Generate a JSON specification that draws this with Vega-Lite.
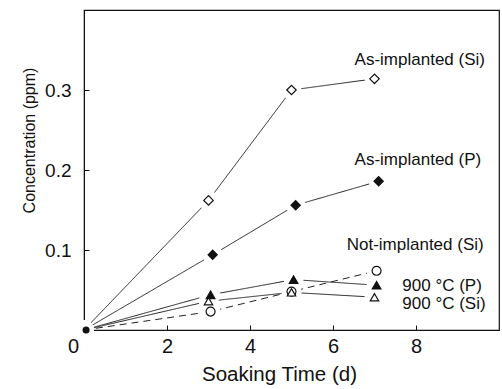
{
  "$schema": "https://vega.github.io/schema/vega-lite/v6.json",
  "width": 415,
  "height": 320,
  "autosize": "none",
  "padding": {"left": 84, "top": 10, "right": 3, "bottom": 59},
  "background": "white",
  "config": {
    "font": "Liberation Sans",
    "view": {"stroke": "#111", "strokeWidth": 1.2},
    "axis": {"domainColor": "#111", "tickColor": "#111", "labelColor": "#111", "titleColor": "#111", "grid": false, "labelFont": "Liberation Sans", "titleFont": "Liberation Sans", "titleFontWeight": "normal"}
  },
  "datasets": {
    "pts": [
      {"series": "As-implanted (Si)", "x": 0, "y": 0, "start": true},
      {"series": "As-implanted (Si)", "x": 3.0, "y": 0.162, "start": false},
      {"series": "As-implanted (Si)", "x": 5.0, "y": 0.300, "start": false},
      {"series": "As-implanted (Si)", "x": 7.0, "y": 0.314, "start": false},
      {"series": "As-implanted (P)", "x": 0, "y": 0, "start": true},
      {"series": "As-implanted (P)", "x": 3.1, "y": 0.094, "start": false},
      {"series": "As-implanted (P)", "x": 5.1, "y": 0.156, "start": false},
      {"series": "As-implanted (P)", "x": 7.1, "y": 0.186, "start": false},
      {"series": "Not-implanted (Si)", "x": 0, "y": 0, "start": true},
      {"series": "Not-implanted (Si)", "x": 3.05, "y": 0.023, "start": false},
      {"series": "Not-implanted (Si)", "x": 5.0, "y": 0.048, "start": false},
      {"series": "Not-implanted (Si)", "x": 7.05, "y": 0.074, "start": false},
      {"series": "900 °C (P)", "x": 0, "y": 0, "start": true},
      {"series": "900 °C (P)", "x": 3.05, "y": 0.044, "start": false},
      {"series": "900 °C (P)", "x": 5.05, "y": 0.063, "start": false},
      {"series": "900 °C (P)", "x": 7.05, "y": 0.056, "start": false},
      {"series": "900 °C (Si)", "x": 0, "y": 0, "start": true},
      {"series": "900 °C (Si)", "x": 3.0, "y": 0.036, "start": false},
      {"series": "900 °C (Si)", "x": 5.0, "y": 0.047, "start": false},
      {"series": "900 °C (Si)", "x": 7.0, "y": 0.041, "start": false}
    ],
    "labels": [
      {"text": "As-implanted (Si)", "x": 6.52, "y": 0.3375},
      {"text": "As-implanted (P)", "x": 6.52, "y": 0.2125},
      {"text": "Not-implanted (Si)", "x": 6.33, "y": 0.106},
      {"text": "900 °C (P)", "x": 7.67, "y": 0.055},
      {"text": "900 °C (Si)", "x": 7.67, "y": 0.0325}
    ]
  },
  "encoding": {
    "x": {
      "field": "x", "type": "quantitative",
      "scale": {"domain": [0, 10], "nice": false, "zero": false},
      "axis": {
        "values": [0, 2, 4, 6, 8], "tickSize": -5, "labelPadding": 11,
        "labelFontSize": 20, "labelFlush": false,
        "labelOffset": {"condition": {"test": "datum.value == 0", "value": -11}, "value": 0},
        "title": "Soaking Time (d)", "titleFontSize": 20.5, "titlePadding": 8, "titleX": 195
      }
    },
    "y": {
      "field": "y", "type": "quantitative",
      "scale": {"domain": [0, 0.4], "nice": false},
      "axis": {
        "values": [0.1, 0.2, 0.3], "tickSize": -5, "labelPadding": 18,
        "labelFontSize": 19, "format": ".1f",
        "title": "Concentration (ppm)", "titleFontSize": 16, "titlePadding": 7, "titleY": 130
      }
    }
  },
  "layer": [
    {
      "data": {"name": "pts"},
      "mark": {"type": "line", "color": "#222", "strokeWidth": 1},
      "encoding": {
        "detail": {"field": "series"},
        "order": {"field": "x"},
        "strokeDash": {
          "field": "series", "type": "nominal", "legend": null,
          "scale": {
            "domain": ["As-implanted (Si)", "As-implanted (P)", "Not-implanted (Si)", "900 °C (P)", "900 °C (Si)"],
            "range": [[1, 0], [1, 0], [7, 5], [1, 0], [1, 0]]
          }
        }
      }
    },
    {
      "data": {"name": "pts"},
      "mark": {"type": "point", "filled": true, "color": "white", "size": 400, "opacity": 1, "shape": "circle"},
      "encoding": {}
    },
    {
      "data": {"name": "pts"},
      "transform": [{"filter": "!datum.start"}],
      "mark": {"type": "point", "stroke": "#111", "strokeWidth": 1.2, "opacity": 1},
      "encoding": {
        "shape": {
          "field": "series", "type": "nominal", "legend": null,
          "scale": {
            "domain": ["As-implanted (Si)", "As-implanted (P)", "Not-implanted (Si)", "900 °C (P)", "900 °C (Si)"],
            "range": ["diamond", "diamond", "circle", "triangle-up", "triangle-up"]
          }
        },
        "fill": {
          "field": "series", "type": "nominal", "legend": null,
          "scale": {
            "domain": ["As-implanted (Si)", "As-implanted (P)", "Not-implanted (Si)", "900 °C (P)", "900 °C (Si)"],
            "range": ["white", "#111", "white", "#111", "white"]
          }
        },
        "size": {
          "field": "series", "type": "nominal", "legend": null,
          "scale": {
            "domain": ["As-implanted (Si)", "As-implanted (P)", "Not-implanted (Si)", "900 °C (P)", "900 °C (Si)"],
            "range": [90, 70, 110, 70, 70]
          }
        }
      }
    },
    {
      "data": {"values": [{"x": 0.05, "y": 0}]},
      "mark": {"type": "point", "filled": true, "color": "#111", "size": 50, "shape": "circle", "opacity": 1},
      "encoding": {}
    },
    {
      "data": {"name": "labels"},
      "mark": {"type": "text", "align": "left", "baseline": "middle", "fontSize": 17, "color": "#111", "font": "Liberation Sans"},
      "encoding": {"text": {"field": "text"}}
    }
  ]
}
